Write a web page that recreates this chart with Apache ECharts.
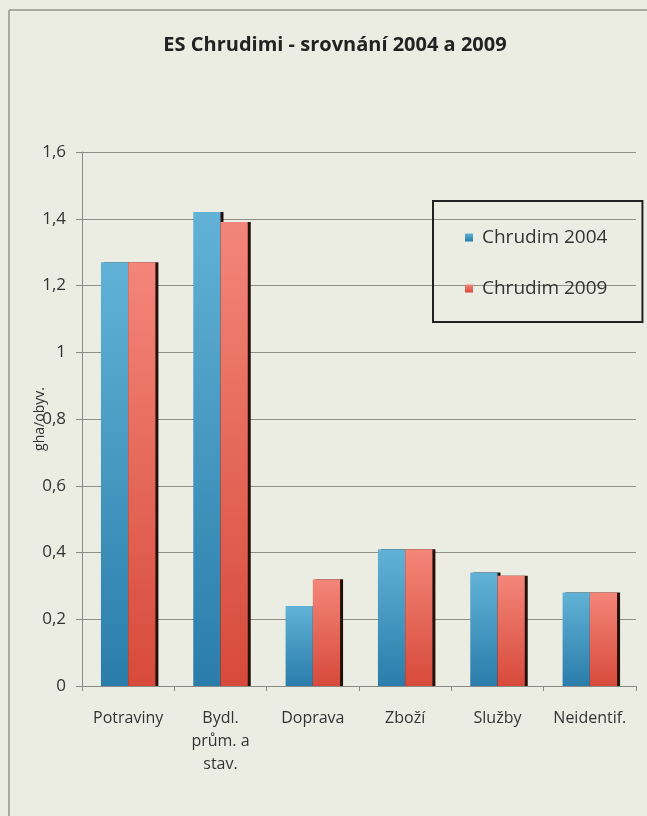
<!DOCTYPE html>
<html>
<head>
<meta charset="utf-8">
<script src="https://cdn.jsdelivr.net/npm/echarts@6/dist/echarts.min.js"></script>
<style>
html,body{margin:0;padding:0;background:#ecede2;}
#c{width:647px;height:816px;}
</style>
</head>
<body>
<div id="c"></div>
<script>
const categories = ['Potraviny', 'Bydl.\nprům. a\nstav.', 'Doprava', 'Zboží', 'Služby', 'Neidentif.'];
const seriesNames = ['Chrudim 2004', 'Chrudim 2009'];
const values2004 = [1.27, 1.42, 0.24, 0.41, 0.34, 0.28];
const values2009 = [1.27, 1.39, 0.32, 0.41, 0.33, 0.28];
const yTicks = [0, 0.2, 0.4, 0.6, 0.8, 1, 1.2, 1.4, 1.6];

const FONT = 'Open Sans';
const chart = echarts.init(document.getElementById('c'), null, {renderer: 'canvas'});

function grad(top, bottom) {
  return new echarts.graphic.LinearGradient(0, 0, 0, 1, [
    {offset: 0, color: top}, {offset: 1, color: bottom}
  ]);
}

chart.setOption({
  backgroundColor: '#ecede2',
  animation: false,
  title: {
    text: 'ES Chrudimi - srovnání 2004 a 2009',
    left: 330, top: 30, textAlign: 'center',
    textStyle: {fontFamily: FONT, fontSize: 20, fontWeight: 'bold', color: '#222'}
  },
  graphic: [
    {type: 'line', shape: {x1: 9, y1: 10, x2: 9, y2: 816}, style: {stroke: '#a9a9a0', lineWidth: 2}},
    {type: 'line', shape: {x1: 9, y1: 10, x2: 647, y2: 10}, style: {stroke: '#a9a9a0', lineWidth: 2}}
  ],
  legend: {
    orient: 'vertical',
    left: 433, top: 201,
    padding: [27, 35, 24, 32],
    itemGap: 32,
    itemWidth: 8, itemHeight: 8,
    icon: 'rect',
    borderColor: '#222', borderWidth: 2,
    textStyle: {fontFamily: FONT, fontSize: 19, color: '#333', padding: [0, 0, 0, 4]},
    data: seriesNames
  },
  grid: {left: 82, right: 11, top: 152, bottom: 130},
  xAxis: {
    type: 'category',
    data: categories,
    axisLine: {lineStyle: {color: '#8a8a84', width: 1}},
    axisTick: {show: true, alignWithLabel: false, length: 5, lineStyle: {color: '#8a8a84'}},
    axisLabel: {fontFamily: FONT, fontSize: 16, color: '#333', margin: 21, lineHeight: 23, interval: 0}
  },
  yAxis: {
    type: 'value',
    min: 0, max: 1.6, interval: 0.2,
    name: 'gha/obyv.',
    nameLocation: 'middle',
    nameGap: 35,
    nameMoveOverlap: false,
    nameTextStyle: {fontFamily: FONT, fontSize: 14, color: '#333'},
    axisLine: {show: true, lineStyle: {color: '#8a8a84'}},
    axisTick: {show: true, length: 6, lineStyle: {color: '#8a8a84'}},
    splitLine: {lineStyle: {color: '#8f8f88', width: 1}},
    axisLabel: {
      fontFamily: FONT, fontSize: 17, color: '#333', margin: 16,
      formatter: v => String(Math.round(v * 10) / 10).replace('.', ',')
    }
  },
  series: [
    {
      name: seriesNames[0], type: 'bar', data: values2004,
      barGap: '0%', barCategoryGap: '41%',
      itemStyle: {
        color: grad('#61b2d6', '#2a7dab'),
        shadowColor: '#24100a', shadowOffsetX: 3, shadowOffsetY: 0, shadowBlur: 0
      }
    },
    {
      name: seriesNames[1], type: 'bar', data: values2009,
      itemStyle: {
        color: grad('#f38679', '#d74a3b'),
        shadowColor: '#24100a', shadowOffsetX: 3, shadowOffsetY: 0, shadowBlur: 0
      }
    }
  ]
});
</script>
</body>
</html>
